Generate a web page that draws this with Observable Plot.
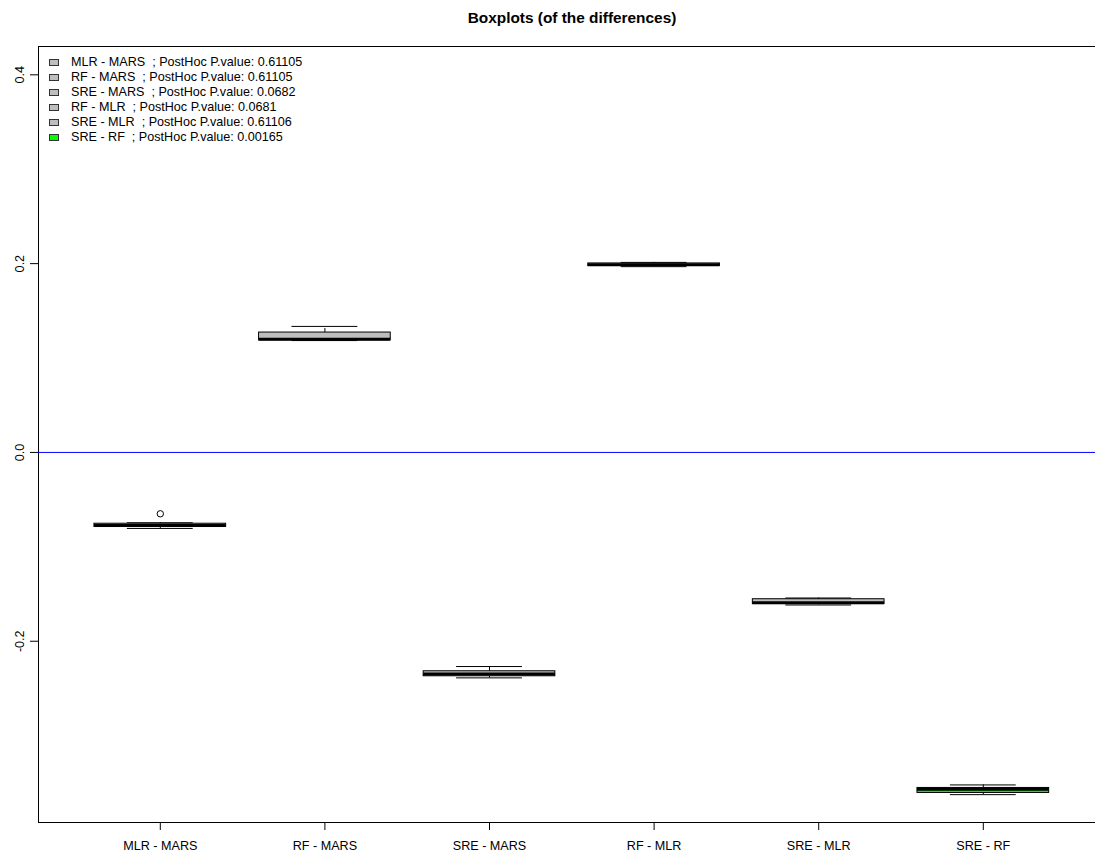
<!DOCTYPE html>
<html>
<head>
<meta charset="utf-8">
<script src="https://cdn.jsdelivr.net/npm/d3@7"></script>
<script src="https://cdn.jsdelivr.net/npm/@observablehq/plot@0.6"></script>
<style>
  html, body { margin: 0; padding: 0; background: #fff; }
  #wrap { position: relative; width: 1095px; height: 854px; font-family: "Liberation Sans", Arial, Helvetica, sans-serif; }
  #legend { position: absolute; left: 49px; top: 55px; font-size: 12.6px; line-height: 15px; color: #000; }
  #legend .row { display: flex; align-items: center; white-space: pre; height: 15px; }
  #legend .sw { width: 8px; height: 5px; border: 1px solid #333; margin-right: 12px; }
</style>
</head>
<body>
<div id="wrap"><div id="legend"></div></div>
<script>
// Pairwise differences between models (five-number summaries per pair)
const categories = ["MLR - MARS", "RF - MARS", "SRE - MARS", "RF - MLR", "SRE - MLR", "SRE - RF"];
const lowerWhisker = [-0.0805, 0.1185, -0.2388, 0.1968, -0.1616, -0.3625];
const q1 = [-0.0790, 0.1188, -0.2371, 0.1975, -0.1606, -0.3607];
const median = [-0.0775, 0.1198, -0.2348, 0.1988, -0.1593, -0.3567];
const q3 = [-0.0755, 0.1270, -0.2318, 0.2002, -0.1555, -0.3554];
const upperWhisker = [-0.0745, 0.1335, -0.2268, 0.2013, -0.1542, -0.3522];
const outlierGroup = ["MLR - MARS"];
const outlierValue = [-0.065];
const postHocP = ["0.61105", "0.61105", "0.0682", "0.0681", "0.61106", "0.00165"];
const yTicks = [-0.2, 0.0, 0.2, 0.4];
const yTickLabels = ["-0.2", "0.0", "0.2", "0.4"];
const xDomain = [0.26, 6.6816];
const yDomain = [-0.392, 0.430];

const boxes = categories.map((name, i) => ({
  name, pos: i + 1,
  lo: lowerWhisker[i], q1: q1[i], med: median[i], q3: q3[i], hi: upperWhisker[i],
  fill: +postHocP[i] < 0.05 ? "#00ff00" : "#bebebe"
}));
const outliers = outlierGroup.map((g, i) => ({pos: categories.indexOf(g) + 1, value: outlierValue[i]}));
const yAxisTicks = yTicks.map((v, i) => ({v, label: yTickLabels[i]}));

const font = "\"Liberation Sans\", Arial, Helvetica, sans-serif";

const chart = Plot.plot({
  width: 1095,
  height: 854,
  marginLeft: 38,
  marginRight: 0,
  marginTop: 46,
  marginBottom: 32,
  style: {fontFamily: font, fontSize: "12.6px", background: "#fff", color: "#000"},
  x: {domain: xDomain, axis: null},
  y: {domain: yDomain, axis: null},
  marks: [
    // plot frame (left, top, bottom)
    Plot.ruleX([xDomain[0]], {stroke: "#000"}),
    Plot.ruleY([yDomain[0], yDomain[1]], {stroke: "#000"}),
    // x axis
    Plot.axisX({
      ticks: categories.map((_, i) => i + 1),
      tickFormat: (d) => categories[d - 1],
      tickSize: 8, tickPadding: 11, label: null, fontSize: 12.6
    }),
    // y axis
    Plot.axisY({ticks: yTicks, tickSize: 8, tickFormat: () => "", label: null}),
    Plot.text(yAxisTicks, {y: "v", text: "label", frameAnchor: "left", dx: -19, rotate: -90, textAnchor: "middle", fontSize: 12.6}),
    // reference line at zero
    Plot.ruleY([0], {stroke: "blue", strokeWidth: 1}),
    // whiskers
    Plot.ruleX(boxes, {x: "pos", y1: "q3", y2: "hi", stroke: "#000", strokeDasharray: "4,3"}),
    Plot.ruleX(boxes, {x: "pos", y1: "lo", y2: "q1", stroke: "#000", strokeDasharray: "4,3"}),
    // staples
    Plot.ruleY(boxes, {y: "hi", x1: (d) => d.pos - 0.2, x2: (d) => d.pos + 0.2, stroke: "#000"}),
    Plot.ruleY(boxes, {y: "lo", x1: (d) => d.pos - 0.2, x2: (d) => d.pos + 0.2, stroke: "#000"}),
    // boxes
    Plot.rect(boxes, {x1: (d) => d.pos - 0.4, x2: (d) => d.pos + 0.4, y1: "q1", y2: "q3", fill: "fill", stroke: "#000", strokeWidth: 1}),
    // medians
    Plot.ruleY(boxes, {y: "med", x1: (d) => d.pos - 0.4, x2: (d) => d.pos + 0.4, stroke: "#000", strokeWidth: 3}),
    // outliers
    Plot.dot(outliers, {x: "pos", y: "value", r: 3.2, stroke: "#000", fill: "none", strokeWidth: 1}),
    // title
    Plot.text(["Boxplots (of the differences)"], {
      frameAnchor: "top", dx: 5, dy: -34, text: (d) => d, fontWeight: "bold", fontSize: 15.4
    })
  ]
});

const wrap = document.getElementById("wrap");
wrap.insertBefore(chart, wrap.firstChild);

// legend
const legend = document.getElementById("legend");
boxes.forEach((b, i) => {
  const row = document.createElement("div");
  row.className = "row";
  const sw = document.createElement("span");
  sw.className = "sw";
  sw.style.background = b.fill;
  const txt = document.createElement("span");
  txt.textContent = `${b.name}  ; PostHoc P.value: ${postHocP[i]}`;
  row.appendChild(sw);
  row.appendChild(txt);
  legend.appendChild(row);
});
</script>
</body>
</html>
